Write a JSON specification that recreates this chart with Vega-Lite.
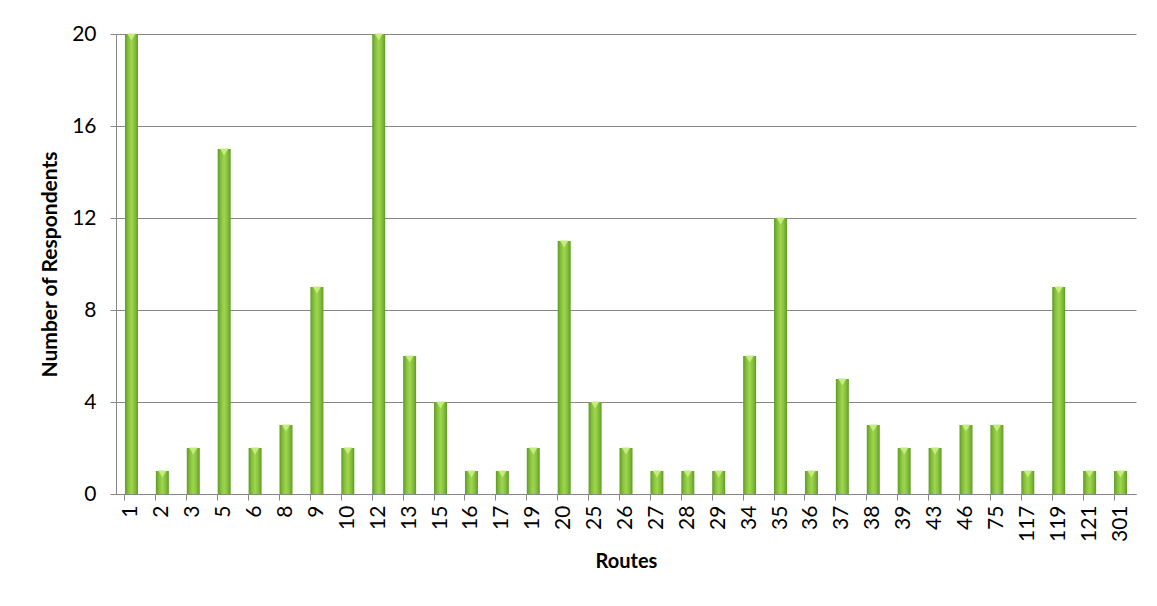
{
  "$schema": "https://vega.github.io/schema/vega-lite/v6.json",
  "autosize": "none",
  "padding": {"left": 116, "top": 34, "right": 21, "bottom": 112},
  "width": 1020,
  "height": 460,
  "background": "white",
  "config": {
    "view": {"stroke": null},
    "axis": {"labelFont": "Lato", "titleFont": "Lato", "labelColor": "#000", "titleColor": "#000",
      "domainColor": "#868686", "tickColor": "#868686", "gridColor": "#868686"}
  },
  "data": {"values": [
    {"route": "1", "count": 20}, {"route": "2", "count": 1}, {"route": "3", "count": 2},
    {"route": "5", "count": 15}, {"route": "6", "count": 2}, {"route": "8", "count": 3},
    {"route": "9", "count": 9}, {"route": "10", "count": 2}, {"route": "12", "count": 20},
    {"route": "13", "count": 6}, {"route": "15", "count": 4}, {"route": "16", "count": 1},
    {"route": "17", "count": 1}, {"route": "19", "count": 2}, {"route": "20", "count": 11},
    {"route": "25", "count": 4}, {"route": "26", "count": 2}, {"route": "27", "count": 1},
    {"route": "28", "count": 1}, {"route": "29", "count": 1}, {"route": "34", "count": 6},
    {"route": "35", "count": 12}, {"route": "36", "count": 1}, {"route": "37", "count": 5},
    {"route": "38", "count": 3}, {"route": "39", "count": 2}, {"route": "43", "count": 2},
    {"route": "46", "count": 3}, {"route": "75", "count": 3}, {"route": "117", "count": 1},
    {"route": "119", "count": 9}, {"route": "121", "count": 1}, {"route": "301", "count": 1}
  ]},
  "encoding": {
    "x": {
      "field": "route", "type": "ordinal", "sort": null, "title": "Routes",
      "scale": {"paddingInner": 0.58, "paddingOuter": 0.29},
      "axis": {"labelAngle": -90, "labelFontSize": 21, "labelPadding": 5, "tickSize": 6,
        "bandPosition": 0, "titleFontSize": 20, "titleFontWeight": "bold", "titlePadding": 10}
    },
    "y": {
      "field": "count", "type": "quantitative", "title": "Number of Respondents",
      "scale": {"domain": [0, 20]},
      "axis": {"values": [0, 4, 8, 12, 16, 20], "labelFontSize": 21, "labelPadding": 14, "tickSize": 6,
        "grid": true, "titleFontSize": 21, "titleFontWeight": "bold", "titlePadding": 11}
    }
  },
  "layer": [
    {
      "mark": {"type": "bar", "color": {"gradient": "linear", "x1": 0, "x2": 1, "y1": 0, "y2": 0,
        "stops": [
          {"offset": 0, "color": "#5f9a26"},
          {"offset": 0.25, "color": "#86c03c"},
          {"offset": 0.5, "color": "#9fd64f"},
          {"offset": 0.75, "color": "#86c03c"},
          {"offset": 1, "color": "#5f9a26"}
        ]}}
    },
    {
      "mark": {"type": "point", "shape": "triangle-down", "filled": true, "color": "#c4ec7e", "size": 70, "yOffset": 3, "opacity": 1}
    }
  ]
}
